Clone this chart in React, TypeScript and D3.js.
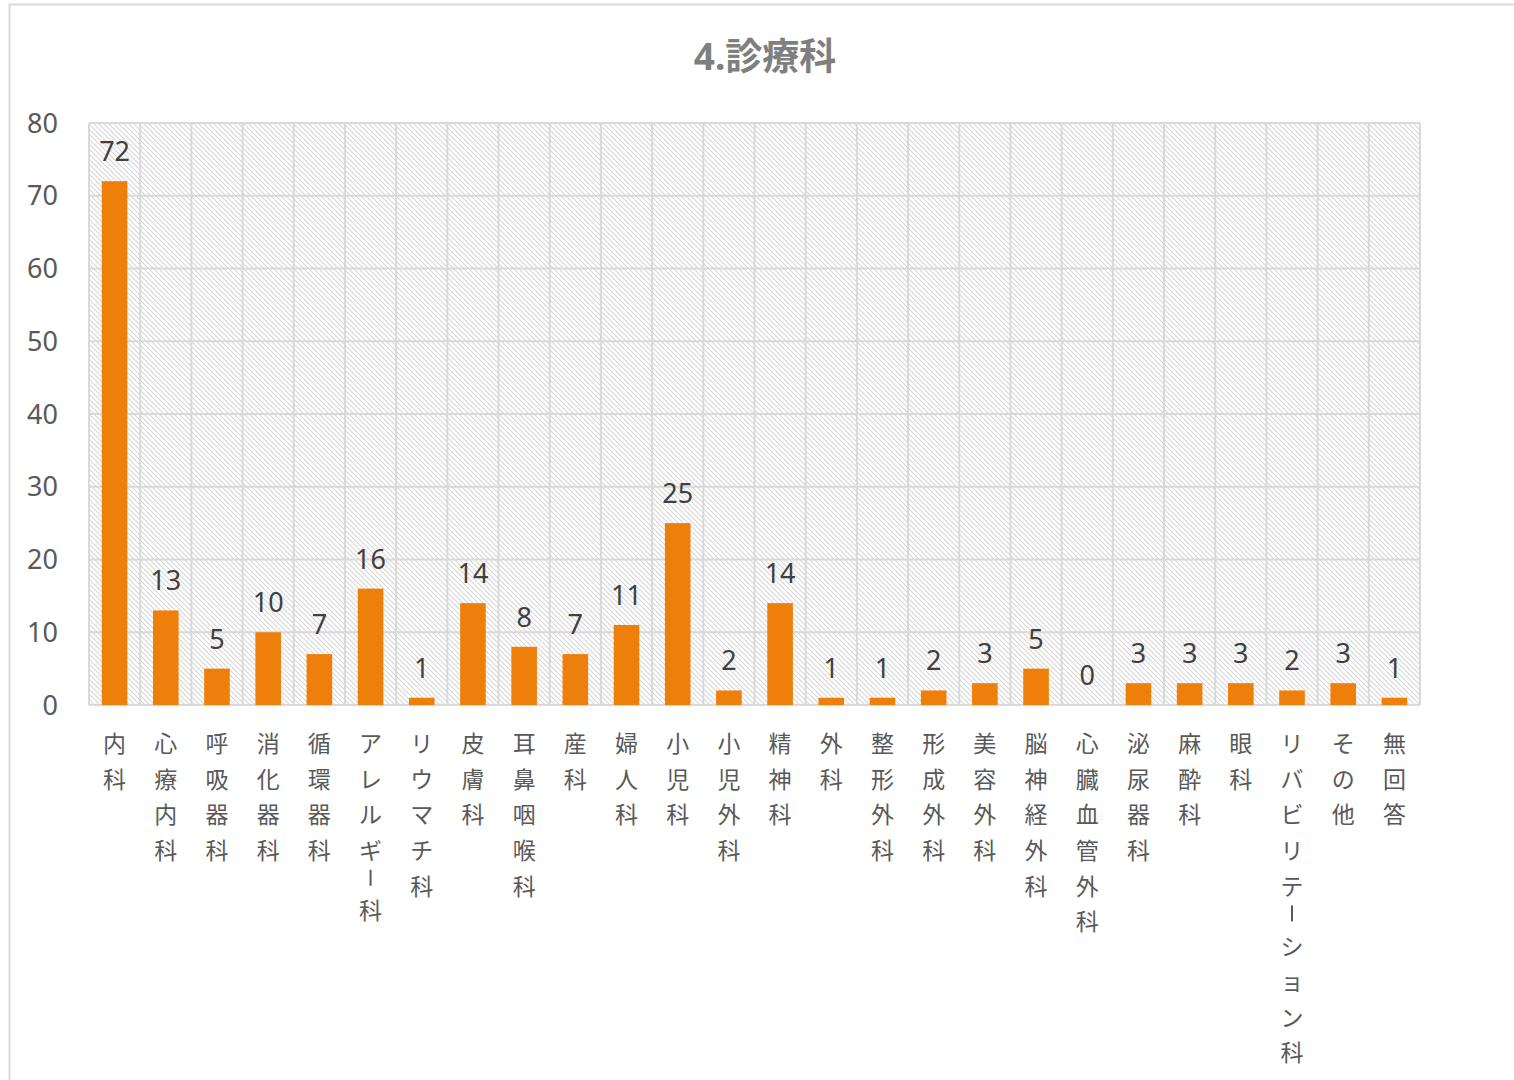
import { useEffect, useRef } from "react";
import * as d3 from "d3";

const categories = [
  "内科", "心療内科", "呼吸器科", "消化器科", "循環器科", "アレルギー科", "リウマチ科",
  "皮膚科", "耳鼻咽喉科", "産科", "婦人科", "小児科", "小児外科", "精神科", "外科",
  "整形外科", "形成外科", "美容外科", "脳神経外科", "心臓血管外科", "泌尿器科", "麻酔科",
  "眼科", "リバビリテーション科", "その他", "無回答",
];
const counts = [72, 13, 5, 10, 7, 16, 1, 14, 8, 7, 11, 25, 2, 14, 1, 1, 2, 3, 5, 0, 3, 3, 3, 2, 3, 1];
const yTicks = [0, 10, 20, 30, 40, 50, 60, 70, 80];
const title = "4.診療科";

const FONT = "'Noto Sans', 'Noto Sans CJK JP', sans-serif";

export default function App() {
  const svgRef = useRef<SVGSVGElement | null>(null);

  useEffect(() => {
    if (!svgRef.current) return;
    const svg = d3.select(svgRef.current);
    svg.selectAll("*").remove();

    const width = 1514;
    const height = 1080;
    const left = 89, right = 1420, top = 123, bottom = 705;

    // hatch pattern for plot background
    const defs = svg.append("defs");
    const pat = defs
      .append("pattern")
      .attr("id", "hatch")
      .attr("patternUnits", "userSpaceOnUse")
      .attr("width", 5)
      .attr("height", 5);
    pat
      .append("path")
      .attr("d", "M-1,-1 L6,6 M-1,4 L1,6 M4,-1 L6,1")
      .attr("stroke", "#d6d6d6")
      .attr("stroke-width", 1.1);

    svg.append("rect").attr("width", width).attr("height", height).attr("fill", "#fff");

    // chart frame
    svg
      .append("rect")
      .attr("x", 9.5)
      .attr("y", 4.5)
      .attr("width", 1540)
      .attr("height", 1100)
      .attr("fill", "none")
      .attr("stroke", "#d9d9d9")
      .attr("stroke-width", 2);

    svg
      .append("text")
      .attr("x", 765)
      .attr("y", 70)
      .attr("text-anchor", "middle")
      .attr("font-family", FONT)
      .attr("font-size", 37)
      .attr("font-weight", "bold")
      .attr("fill", "#7f7f7f")
      .text(title);

    const x = d3.scaleBand().domain(categories).range([left, right]).paddingInner(0).paddingOuter(0);
    const y = d3.scaleLinear().domain([0, 80]).range([bottom, top]);

    svg
      .append("rect")
      .attr("x", left)
      .attr("y", top)
      .attr("width", right - left)
      .attr("height", bottom - top)
      .attr("fill", "url(#hatch)");

    // gridlines
    const grid = svg.append("g").attr("stroke", "#d9d9d9").attr("stroke-width", 2);
    yTicks.forEach((t) => {
      grid.append("line").attr("x1", left).attr("x2", right).attr("y1", y(t)).attr("y2", y(t));
    });
    categories.forEach((c) => {
      grid.append("line").attr("x1", x(c)!).attr("x2", x(c)!).attr("y1", top).attr("y2", bottom);
    });
    grid.append("line").attr("x1", right).attr("x2", right).attr("y1", top).attr("y2", bottom);

    // y axis labels
    svg
      .append("g")
      .selectAll("text")
      .data(yTicks)
      .join("text")
      .attr("x", 58)
      .attr("y", (d) => y(d))
      .attr("dy", "0.36em")
      .attr("text-anchor", "end")
      .attr("font-family", FONT)
      .attr("font-size", 27)
      .attr("fill", "#595959")
      .text((d) => d);

    const bw = x.bandwidth() * 0.5;

    svg
      .append("g")
      .selectAll("rect")
      .data(counts)
      .join("rect")
      .attr("x", (d, i) => x(categories[i])! + (x.bandwidth() - bw) / 2)
      .attr("y", (d) => y(d))
      .attr("width", bw)
      .attr("height", (d) => y(0) - y(d))
      .attr("fill", "#ef7f0b");

    svg
      .append("g")
      .selectAll("text")
      .data(counts)
      .join("text")
      .attr("x", (d, i) => x(categories[i])! + x.bandwidth() / 2)
      .attr("y", (d) => y(d) - 20)
      .attr("text-anchor", "middle")
      .attr("font-family", FONT)
      .attr("font-size", 27)
      .attr("fill", "#404040")
      .text((d) => d);

    // vertical category labels (one character per line)
    const cat = svg.append("g");
    categories.forEach((c) => {
      const cx = x(c)! + x.bandwidth() / 2;
      let prev = 744 - 35.6;
      let afterBar = false;
      Array.from(c).forEach((ch) => {
        if (ch === "ー") {
          // long vowel mark: short vertical stroke, tighter spacing
          const cy = prev + 27;
          cat
            .append("line")
            .attr("x1", cx)
            .attr("x2", cx)
            .attr("y1", cy - 8)
            .attr("y2", cy + 8)
            .attr("stroke", "#595959")
            .attr("stroke-width", 2);
          prev = cy;
          afterBar = true;
          return;
        }
        const cy = prev + (afterBar ? 33 : 35.6);
        afterBar = false;
        cat
          .append("text")
          .attr("x", cx)
          .attr("y", cy)
          .attr("dy", "0.36em")
          .attr("text-anchor", "middle")
          .attr("font-family", "'Noto Sans CJK JP', sans-serif")
          .attr("font-size", 23)
          .attr("fill", "#595959")
          .text(ch);
        prev = cy;
      });
    });
  }, []);

  return (
    <div style={{ position: "fixed", left: 0, top: 0 }}>
      <svg ref={svgRef} width={1514} height={1080} style={{ display: "block" }} />
    </div>
  );
}
